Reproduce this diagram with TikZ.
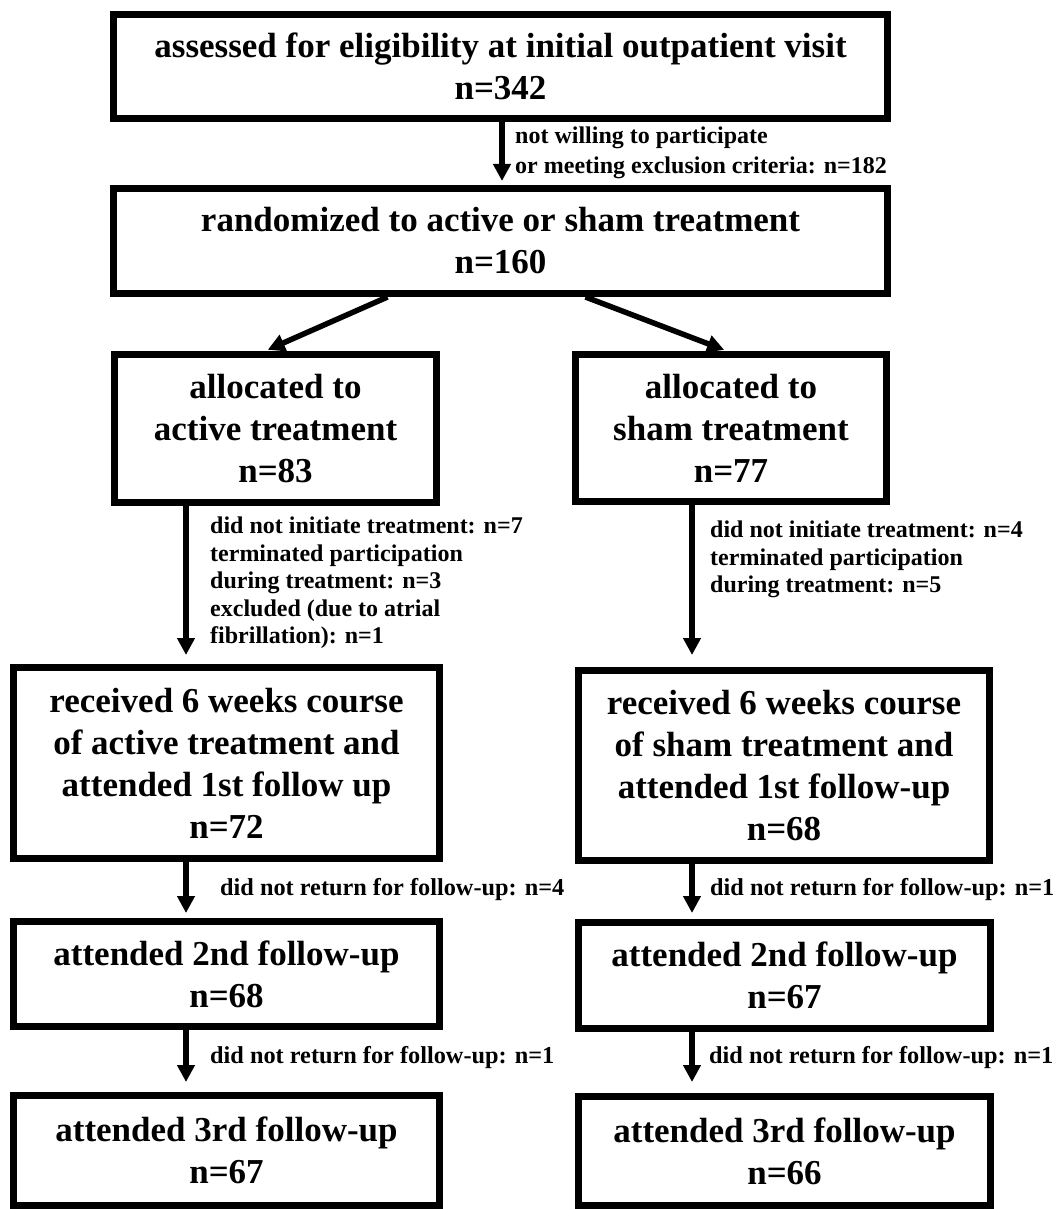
\documentclass[tikz,border=0pt]{standalone}
\usepackage{fontspec}
\setmainfont{Liberation Serif}
\usepackage{tikz}
\usetikzlibrary{arrows.meta,positioning,calc}

\newcommand{\boxfont}{\fontsize{35}{42}\selectfont\bfseries}
\newcommand{\labfont}{\fontsize{24}{27.5}\selectfont\bfseries}
\newcommand{\labwide}{\fontsize{24}{30}\selectfont\bfseries}
\newcommand{\lossfont}{\fontsize{24.3}{28}\selectfont\bfseries}

\begin{document}
\begin{tikzpicture}[x=1pt, y=-1pt,
    box/.style={rectangle, draw, line width=7pt, inner sep=0pt, align=center, font=\boxfont},
    lab/.style={anchor=north west, inner sep=0pt, align=left, font=\labfont},
    arrow/.style={-{Triangle[length=17pt,width=17pt]}, line width=5.5pt}
]
    \useasboundingbox (0,0) rectangle (1056,1209);

    % Enrolment
    \node[box, minimum width=774pt, minimum height=104pt] (assess) at (500.5,66.5) {assessed for eligibility at initial outpatient visit\\n=342};
    \node[box, minimum width=774pt, minimum height=105pt] (rand) at (500.5,241) {randomized to active or sham treatment\\n=160};

    % Allocation
    \node[box, minimum width=322pt, minimum height=148pt] (allocA) at (275.5,428.5) {allocated to\\active treatment\\n=83};
    \node[box, minimum width=311pt, minimum height=147pt] (allocS) at (731,428) {allocated to\\sham treatment\\n=77};

    % Follow-up, active arm
    \node[box, minimum width=426pt, minimum height=191pt] (fupA1) at (226.5,763) {received 6 weeks course\\of active treatment and\\attended 1st follow up\\n=72};
    \node[box, minimum width=426pt, minimum height=105pt] (fupA2) at (226.5,974) {attended 2nd follow-up\\n=68};
    \node[box, minimum width=426pt, minimum height=110pt] (fupA3) at (226.5,1150.5) {attended 3rd follow-up\\n=67};

    % Follow-up, sham arm
    \node[box, minimum width=411pt, minimum height=190pt] (fupS1) at (784,765.5) {received 6 weeks course\\of sham treatment and\\attended 1st follow-up\\n=68};
    \node[box, minimum width=412pt, minimum height=106pt] (fupS2) at (784.5,975.5) {attended 2nd follow-up\\n=67};
    \node[box, minimum width=412pt, minimum height=109pt] (fupS3) at (784.5,1151) {attended 3rd follow-up\\n=66};

    % Arrow columns
    \coordinate (colA) at (186,0);
    \coordinate (colS) at (692,0);

    % Arrows
    \draw[arrow, shorten >=4pt] ([xshift=1.5pt]assess.south) -- ([xshift=1.5pt]rand.north);
    \draw[arrow, shorten >=3pt] ([xshift=-113pt]rand.south) -- ([xshift=-10.5pt]allocA.north);
    \draw[arrow, shorten >=3pt] ([xshift=85pt]rand.south) -- ([xshift=-4pt]allocS.north);
    \draw[arrow, shorten >=9pt] (allocA.south -| colA) -- (fupA1.north -| colA);
    \draw[arrow, shorten >=12pt] (allocS.south -| colS) -- (fupS1.north -| colS);
    \draw[arrow, shorten >=5pt] (fupA1.south -| colA) -- (fupA2.north -| colA);
    \draw[arrow, shorten >=6pt] (fupS1.south -| colS) -- (fupS2.north -| colS);
    \draw[arrow, shorten >=10pt] (fupA2.south -| colA) -- (fupA3.north -| colA);
    \draw[arrow, shorten >=11pt] (fupS2.south -| colS) -- (fupS3.north -| colS);

    % Labels
    \node[lab, font=\labwide] (excl) at (515,127) {not willing to participate\\or meeting exclusion criteria: n=182};
    \node[lab] (dropA) at (210,516.75) {did not initiate treatment: n=7\\terminated participation\\during treatment: n=3\\excluded (due to atrial\\fibrillation): n=1};
    \node[lab] (dropS) at (710,520.75) {did not initiate treatment: n=4\\terminated participation\\during treatment: n=5};
    \node[lab, font=\lossfont] (lossA1) at (220,878.5) {did not return for follow-up: n=4};
    \node[lab, font=\lossfont] (lossS1) at (710,878.5) {did not return for follow-up: n=1};
    \node[lab, font=\lossfont] (lossA2) at (210,1046.5) {did not return for follow-up: n=1};
    \node[lab, font=\lossfont] (lossS2) at (709,1046.5) {did not return for follow-up: n=1};
\end{tikzpicture}
\end{document}
